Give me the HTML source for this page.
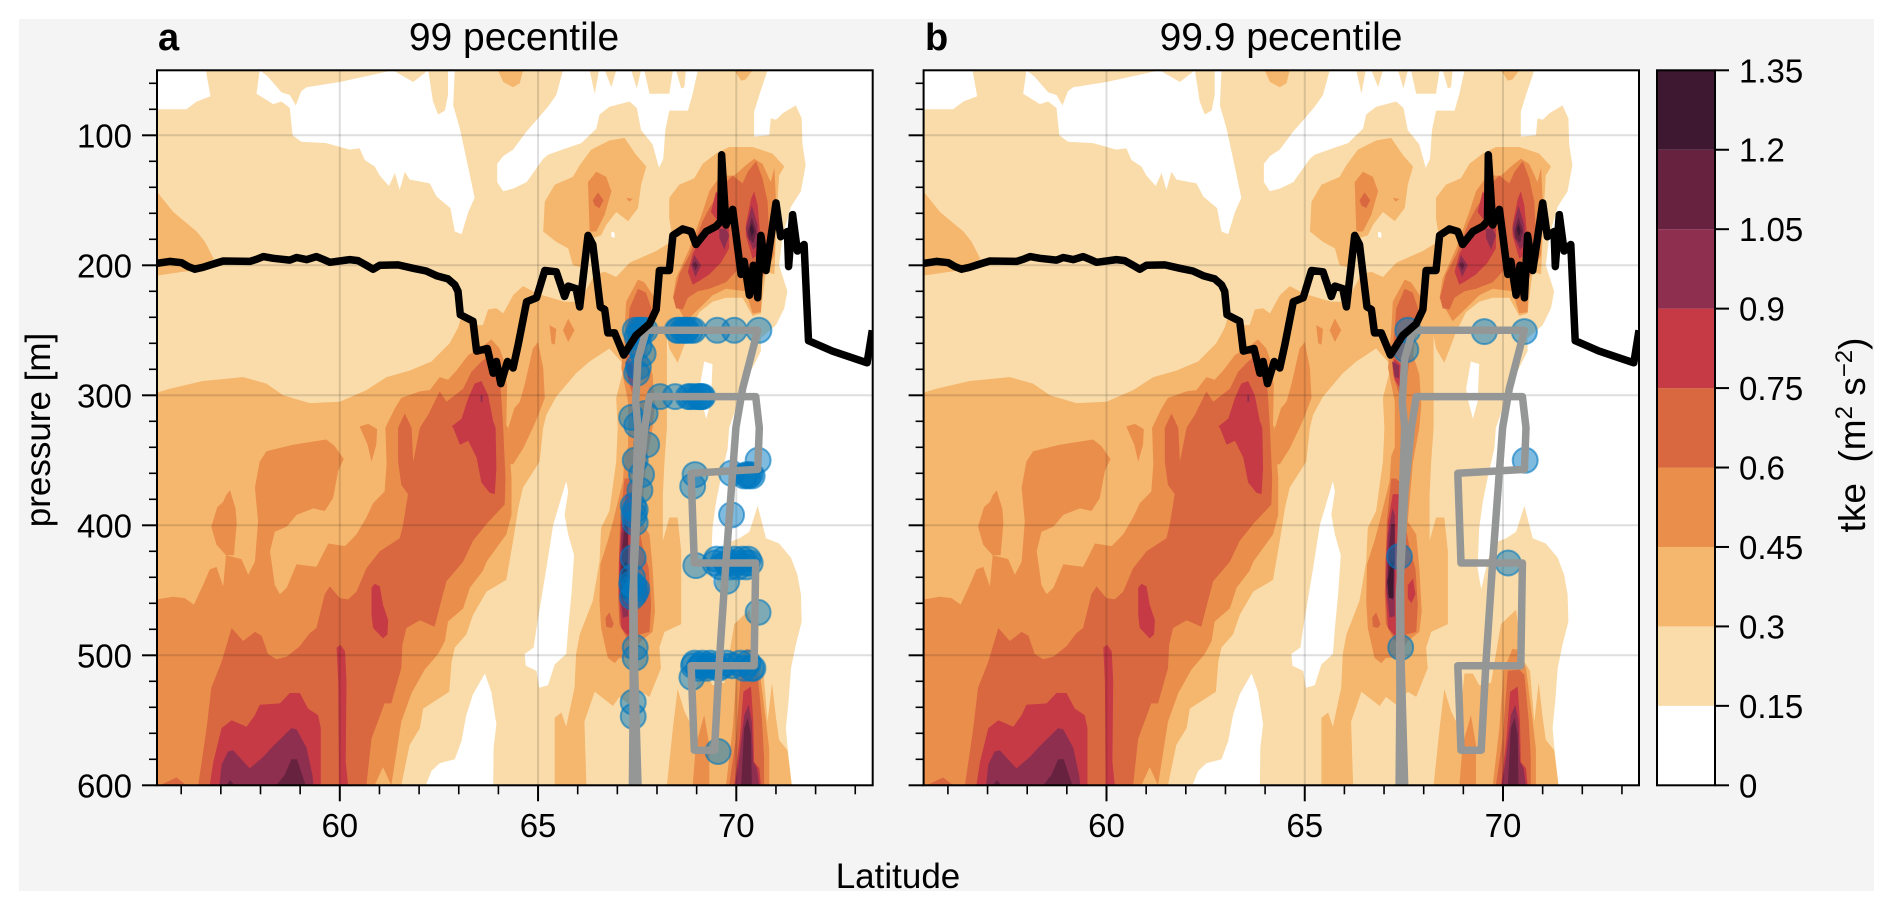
<!DOCTYPE html>
<html lang="en">
<head>
<meta charset="utf-8">
<title>TKE percentile cross-sections</title>
<style>
html,body{margin:0;padding:0;background:#fff;width:1892px;height:910px;overflow:hidden}
svg{display:block}
text{font-family:"Liberation Sans",sans-serif;fill:#000}
</style>
</head>
<body>
<svg id="chart" xmlns="http://www.w3.org/2000/svg" width="1892" height="910" viewBox="0 0 1892 910">
<rect x="19" y="19" width="1855" height="872" fill="#f4f4f4"/>
<text x="158" y="50" font-size="38" font-weight="bold">a</text>
<text x="514" y="50" font-size="39" text-anchor="middle">99 pecentile</text>
<text x="925" y="50" font-size="38" font-weight="bold">b</text>
<text x="1281" y="50" font-size="39" text-anchor="middle">99.9 pecentile</text>
<text x="898" y="888" font-size="35" text-anchor="middle">Latitude</text>
<text transform="translate(50 430) rotate(-90)" font-size="35" text-anchor="middle">pressure [m]</text>
<text transform="translate(1865 435) rotate(-90)" font-size="37" text-anchor="middle" xml:space="preserve">tke  (m<tspan font-size="24" dy="-13">2</tspan><tspan dy="13"> s</tspan><tspan font-size="24" dy="-13">−2</tspan><tspan dy="13">)</tspan></text>
</svg>
<script>
// ---- shared data: contour levels and colours ----
const levels = [0, 0.15, 0.3, 0.45, 0.6, 0.75, 0.9, 1.05, 1.2, 1.35];
const bandColors = ['#ffffff', '#fadcaa', '#f5b66d', '#ea8e4b', '#d96840', '#c63a45', '#8f2f50', '#66223f', '#3e1830'];
const colorbarTicks = ['0', '0.15', '0.3', '0.45', '0.6', '0.75', '0.9', '1.05', '1.2', '1.35'];
const latMajorTicks = [60, 65, 70];
const latMinorTicks = [56, 57, 58, 59, 61, 62, 63, 64, 66, 67, 68, 69, 71, 72, 73];
const pressureMajorTicks = [100, 200, 300, 400, 500, 600];
const pressureMinorTicks = [60, 80, 120, 140, 160, 180, 220, 240, 260, 280, 320, 340, 360, 380, 420, 440, 460, 480, 520, 540, 560, 580];

// ---- tke field: contour regions as [latitude, pressure] ----
const regionsBelow015 = [
 [[55.38,50],[56.62,50],[56.74,70],[56.39,74],[56.13,80],[55.38,80]],
 [[57.98,50],[58.19,55],[58.53,67],[58.74,69],[58.89,77],[59.03,66],[59.16,63],[60,59],[61.34,50],[61.85,59],[62.23,50],[62.35,74],[62.48,84],[62.65,81],[62.73,69],[62.73,50],[62.90,50],[62.86,77],[63.03,95],[63.24,125],[63.40,148],[63.24,159],[63.07,176],[62.90,174],[62.79,156],[62.44,147],[62.27,137],[61.76,134],[61.64,128],[61.51,142],[61.39,129],[61.24,139],[61.01,131],[60.88,124],[60.63,119],[60.50,110],[60.25,111],[59.66,106],[59.03,105],[58.81,100],[58.74,79],[58.53,74],[58.32,76],[57.90,68]],
 [[63.97,128],[63.97,122],[64.12,116],[64.37,111],[64.71,97],[65,87],[65.25,78],[65.46,69],[65.63,50],[66.30,50],[66.43,68],[66.54,50],[66.68,50],[66.85,63],[66.97,50],[67.35,50],[67.49,64],[67.60,50],[67.68,50],[67.81,68],[68.31,68],[68.40,50],[68.48,50],[68.61,64],[68.69,63],[68.73,50],[69.03,50],[68.90,68],[68.78,81],[68.31,81],[68.21,96],[68.16,118],[68.05,125],[67.89,107],[67.60,96],[67.49,79],[67.31,74],[66.80,78],[66.55,84],[66.47,95],[66.09,106],[65.71,110],[65.25,115],[65.13,118],[64.71,136],[64.37,141],[64.12,143],[63.97,136]],
 [[70.79,50],[70.58,69],[70.45,82],[70.45,101],[70.83,100],[70.87,87],[71.0,88],[71.17,83],[71.50,77],[71.65,87],[71.67,107],[71.75,123],[71.63,143],[71.38,155],[71.17,177],[71.08,200],[71.29,220],[71.21,233],[71.0,246],[70.62,256],[70.62,266],[70.24,289],[70.08,302],[69.82,325],[69.78,341],[69.61,364],[69.49,382],[69.40,402],[69.36,433],[69.45,449],[69.61,428],[69.74,414],[70.08,410],[70.33,405],[70.54,385],[70.75,410],[71.08,414],[71.38,425],[71.54,438],[71.63,453],[71.65,474],[71.50,492],[71.38,510],[71.32,535],[71.25,556],[71.29,569],[71.40,600],[73.43,600],[73.43,50]],
 [[69.07,295],[69.19,274],[69.40,276],[69.36,305],[69.24,318],[69.13,305]],
 [[65.71,366],[65.38,400],[65.21,433],[64.96,479],[64.89,494],[64.66,499],[64.69,508],[64.96,512],[65.03,525],[65.25,523],[65.42,507],[65.71,499],[65.76,479],[65.84,453],[65.91,423],[65.76,407],[65.67,392],[65.76,374]],
 [[63.66,514],[63.82,528],[63.95,553],[63.88,571],[63.87,600],[62.17,600],[62.31,589],[62.52,583],[62.90,580],[63.07,566],[63.19,546],[63.36,530]],
 [[66.85,174],[66.93,175],[66.93,179],[66.85,178]]
];
const regionsAbove030 = [
 [[55.38,143],[55.80,159],[56.39,174],[56.60,182],[56.82,195],[56.34,204],[56.05,205],[55.38,208]],
 [[55.38,298],[55.71,295],[56.55,289],[57.56,286],[58.15,291],[58.57,300],[59.24,306],[60,305],[60.67,296],[61.18,286],[61.76,281],[62.31,274],[62.77,260],[62.98,248],[63.07,239],[63.40,246],[63.61,246],[63.74,234],[63.95,233],[64.12,237],[64.37,223],[64.62,216],[65.0,222],[65.67,228],[66.05,228],[66.43,207],[66.68,205],[66.97,209],[67.31,198],[67.98,189],[68.40,181],[68.31,164],[68.31,148],[68.56,138],[68.94,133],[69.15,122],[69.49,114],[69.82,109],[70.41,109],[70.91,114],[71.21,124],[71.08,131],[71.04,151],[71.0,177],[70.96,207],[70.75,205],[70.66,225],[70.62,237],[70.41,239],[70.16,225],[69.74,225],[69.40,228],[69.07,236],[68.82,251],[68.52,275],[68.31,264],[68.25,254],[68.25,325],[68.19,351],[68.15,376],[68.15,412],[68.31,394],[68.52,394],[68.61,420],[68.61,476],[68.19,482],[68.06,494],[68.10,510],[67.81,532],[67.60,528],[67.31,538],[67.05,532],[66.89,539],[66.43,528],[66.17,551],[66.22,600],[65.42,600],[65.42,548],[65.59,544],[65.71,555],[65.92,525],[65.96,499],[66.05,484],[66.38,458],[66.55,428],[66.59,402],[66.80,389],[66.97,351],[67.01,325],[66.97,302],[67.18,277],[66.80,264],[66.30,274],[65.96,283],[65.46,301],[65.21,315],[65.13,325],[65.04,351],[64.62,371],[64.50,387],[64.37,412],[64.20,442],[63.70,451],[63.36,469],[63.19,484],[62.90,494],[62.82,505],[62.76,528],[62.10,541],[62.02,556],[61.76,569],[61.55,600],[55.38,600]],
 [[68.25,600],[68.40,556],[68.52,526],[68.69,543],[68.82,551],[68.98,528],[69.03,514],[69.24,514],[69.40,523],[69.70,521],[69.82,499],[69.95,476],[70.33,465],[70.41,484],[70.54,505],[70.68,512],[70.79,551],[70.90,521],[71.0,548],[71.08,565],[71.29,573],[71.40,600]],
 [[63.99,50],[64.62,50],[64.54,60],[64.37,63],[64.12,59]],
 [[69.95,50],[70.41,50],[70.24,57],[70.12,58]],
 [[65.13,174],[65.17,151],[65.42,138],[65.88,132],[66.05,123],[66.34,111],[66.80,104],[67.18,102],[67.47,115],[67.73,124],[67.60,138],[67.52,156],[67.27,166],[66.97,159],[66.72,169],[66.59,177],[66.38,179],[66.17,202],[65.88,200],[65.76,187],[65.46,182]]
];
const regionsAbove045 = [
 [[55.38,457],[55.80,455],[56.09,456],[56.32,461],[56.55,446],[56.72,434],[56.89,432],[57.06,447],[57.13,423],[57.52,426],[57.69,438],[57.86,428],[57.94,397],[57.86,371],[57.98,351],[58.15,343],[58.82,338],[59.66,334],[59.87,339],[60.10,349],[59.96,358],[59.83,379],[59.62,389],[59.33,387],[58.91,392],[58.66,401],[58.36,405],[58.24,420],[58.36,446],[58.49,453],[58.66,448],[58.91,430],[59.41,432],[59.71,414],[60.13,416],[60.42,407],[60.67,394],[60.84,383],[61.13,374],[61.18,353],[61.15,325],[61.39,310],[61.55,302],[62.02,297],[62.27,296],[62.52,286],[62.73,288],[62.94,281],[63.24,269],[63.57,263],[63.82,257],[64.03,264],[64.12,272],[64.22,292],[64.20,323],[64.24,325],[64.33,364],[64.33,392],[64.20,407],[63.70,428],[63.61,435],[63.28,448],[63.11,464],[62.73,474],[62.65,489],[62.48,499],[62.14,511],[61.81,529],[61.55,551],[61.30,600],[61.09,586],[60.88,600],[55.38,600]],
 [[56.91,386],[57.06,382],[57.13,377],[57.23,373],[57.37,387],[57.40,398],[57.33,423],[57.13,423],[56.89,415],[56.76,401]],
 [[60.50,324],[60.72,322],[60.94,326],[60.92,338],[60.80,351],[60.70,338]],
 [[64.54,305],[64.66,292],[64.87,264],[65,259],[65.13,279],[65.17,302],[65,316],[64.87,325],[64.62,341],[64.37,353],[64.25,353],[64.25,325],[64.4,310]],
 [[65.29,246],[65.46,249],[65.42,261],[65.34,260]],
 [[65.76,241],[65.92,250],[65.76,259],[65.63,250]],
 [[66.26,136],[66.47,128],[66.72,132],[66.85,143],[66.68,161],[66.47,174],[66.30,174]],
 [[67.22,148],[67.39,149],[67.30,151]],
 [[67.22,228],[67.52,211],[67.68,213],[67.94,225],[67.98,236],[67.81,251],[67.73,269],[67.89,284],[67.94,307],[67.89,325],[67.73,351],[67.60,397],[67.81,407],[67.89,433],[67.95,466],[67.89,482],[67.60,489],[67.31,502],[67.05,502],[66.93,506],[66.76,502],[66.59,479],[66.55,458],[66.57,430],[66.76,412],[66.89,397],[67.14,366],[67.18,347],[67.27,340],[67.27,305],[67.10,279],[67.18,251]],
 [[68.40,225],[68.48,210],[68.82,187],[69.15,159],[69.32,143],[69.53,134],[69.74,131],[69.95,131],[70.24,123],[70.45,118],[70.66,122],[70.87,136],[70.96,125],[71.0,151],[70.96,192],[70.83,200],[70.66,207],[70.62,236],[70.41,237],[70.24,220],[69.74,218],[69.40,223],[69.07,233],[68.73,243],[68.56,234]],
 [[68.90,600],[68.98,569],[69.19,546],[69.32,569],[69.32,600]],
 [[69.74,600],[69.91,556],[70.01,512],[70.24,495],[70.41,496],[70.58,510],[70.75,551],[70.83,572],[70.83,600]]
];
const regionsAbove060 = [
 [[56.43,600],[56.64,556],[56.76,525],[57.02,505],[57.27,479],[57.56,489],[57.86,482],[58.03,485],[58.19,499],[58.40,503],[58.66,501],[58.99,493],[59.24,483],[59.41,479],[59.62,453],[59.75,447],[60,456],[60.21,457],[60.42,451],[60.67,433],[61.01,420],[61.51,410],[61.60,399],[61.72,376],[61.55,369],[61.47,351],[61.47,325],[61.64,314],[61.78,323],[61.81,325],[61.85,351],[62.02,325],[62.23,315],[62.52,297],[62.69,305],[63.11,295],[63.32,282],[63.57,274],[63.82,268],[64.03,284],[64.08,305],[64.12,325],[64.18,364],[64.16,384],[63.70,399],[63.36,412],[63.11,428],[62.69,443],[62.56,458],[62.39,478],[62.02,473],[61.68,479],[61.58,492],[61.55,510],[61.30,537],[61.13,537],[60.80,564],[60.67,600]],
 [[55.46,600],[55.88,594],[56.13,600]],
 [[66.38,150],[66.51,144],[66.65,150],[66.55,156],[66.43,154]],
 [[68.41,225],[68.56,207],[68.82,192],[69.15,166],[69.32,156],[69.49,148],[69.74,136],[69.91,131],[70.16,137],[70.29,128],[70.50,120],[70.66,133],[70.79,151],[70.83,177],[70.75,202],[70.62,213],[70.41,215],[70.24,202],[70.08,202],[69.74,213],[69.32,218],[69.03,220],[68.78,225],[68.65,234],[68.48,233]],
 [[67.31,233],[67.52,218],[67.72,221],[67.86,233],[67.81,246],[67.69,261],[67.56,292],[67.39,300],[67.22,284],[67.22,267]],
 [[67.18,364],[67.07,397],[67.04,428],[67.02,453],[67.05,476],[67.27,489],[67.56,484],[67.81,482],[67.85,461],[67.79,433],[67.64,417],[67.54,400],[67.47,369],[67.31,364]],
 [[66.70,471],[66.80,467],[66.91,476],[66.85,479],[66.72,478]],
 [[69.82,600],[69.99,564],[70.12,512],[70.41,511],[70.54,515],[70.65,551],[70.70,579],[70.70,600]]
];
const regionsAbove075 = [
 [[56.72,600],[56.81,582],[57.02,556],[57.27,550],[57.65,555],[57.86,546],[57.98,538],[58.49,537],[58.74,529],[58.99,529],[59.20,541],[59.45,546],[59.52,556],[59.52,600]],
 [[59.92,494],[60.02,492],[60.13,497],[60.17,520],[60.15,582],[60.21,600],[59.98,600],[59.96,520]],
 [[60.80,448],[60.88,445],[61.01,447],[61.09,461],[61.22,473],[61.20,484],[61.09,487],[60.84,479],[60.80,469]],
 [[62.82,324],[63.07,318],[63.24,302],[63.40,291],[63.57,289],[63.74,300],[63.87,320],[63.93,325],[63.95,356],[63.91,376],[63.78,375],[63.57,367],[63.45,348],[63.24,335],[63.03,338],[62.86,325]],
 [[68.78,205],[68.90,191],[69.15,177],[69.40,168],[69.82,169],[69.82,187],[69.61,198],[69.32,207],[69.07,212],[68.90,215]],
 [[69.36,159],[69.49,143],[69.66,151],[69.61,169]],
 [[70.24,169],[70.37,149],[70.45,143],[70.54,154],[70.62,182],[70.54,192],[70.41,195],[70.24,177]],
 [[67.27,272],[67.43,277],[67.41,295],[67.27,288],[67.21,277]],
 [[67.22,376],[67.10,397],[67.04,428],[67.04,453],[67.10,479],[67.27,485],[67.39,479],[67.43,428],[67.39,376]],
 [[67.60,446],[67.73,441],[67.79,453],[67.69,460],[67.60,456]],
 [[69.95,600],[70.08,566],[70.18,528],[70.37,524],[70.43,551],[70.45,582],[70.58,587],[70.62,600]]
];
const regionsAbove090 = [
 [[56.96,600],[57.02,584],[57.18,574],[57.31,573],[57.73,587],[58.07,578],[58.28,571],[58.78,556],[58.91,557],[59.16,571],[59.31,592],[59.34,600]],
 [[63.55,300],[63.60,300],[63.60,305],[63.55,305]],
 [[68.86,200],[68.94,192],[69.11,200],[68.97,209]],
 [[69.57,172],[69.74,172],[69.82,177],[69.70,188],[69.57,179]],
 [[70.24,172],[70.39,154],[70.54,169],[70.54,184],[70.43,188],[70.29,179]],
 [[67.21,387],[67.10,407],[67.05,448],[67.14,471],[67.27,470],[67.27,392]],
 [[67.20,274],[67.38,277],[67.38,287],[67.27,286]],
 [[69.97,600],[70.08,577],[70.20,546],[70.31,538],[70.39,551],[70.43,582],[70.52,587],[70.58,600]]
];
const regionsAbove105 = [
 [[58.40,600],[58.61,592],[58.78,580],[58.92,580],[59.03,590],[59.14,600]],
 [[57.14,600],[57.23,596],[57.35,600]],
 [[68.90,199],[68.97,197],[69.03,200],[68.97,204]],
 [[70.29,174],[70.39,163],[70.51,174],[70.43,183],[70.31,179]],
 [[67.18,399],[67.10,428],[67.10,453],[67.22,458],[67.27,428],[67.27,399]],
 [[70.12,600],[70.20,556],[70.29,548],[70.37,561],[70.39,600]]
];
const regionsAbove120 = [
 [[67.18,428],[67.08,443],[67.12,456],[67.24,456],[67.24,428]],
 [[70.34,172],[70.39,168],[70.45,174],[70.39,178]]
];
const fieldByLevel = [regionsAbove030, regionsAbove045, regionsAbove060, regionsAbove075, regionsAbove090, regionsAbove105, regionsAbove120];

// ---- tropopause (black line) ----
const tropopauseLat = [55.38,55.71,56.01,56.18,56.34,56.55,56.81,57.06,57.73,57.90,58.07,58.32,58.74,58.91,59.16,59.41,59.58,59.75,60.25,60.46,60.67,60.84,61.01,61.47,61.85,62.18,62.44,62.73,62.90,62.98,63.04,63.36,63.45,63.72,63.87,63.95,64.06,64.23,64.37,64.50,64.71,64.96,65.17,65.46,65.67,65.76,65.96,66.05,66.26,66.38,66.57,66.68,66.76,66.93,67.16,67.47,67.81,67.98,68.06,68.31,68.40,68.65,68.86,68.98,69.24,69.49,69.61,69.63,69.74,69.91,70.12,70.20,70.33,70.43,70.54,70.62,70.75,71.0,71.12,71.29,71.32,71.42,71.54,71.71,71.82,72.42,73.30,73.43];
const tropopausePressure = [198.5,197,198,201,203,201.5,199,196.7,197,195.4,193.3,194.6,196,194,195.6,193.3,195.4,197.7,195.6,196.4,200,203,200,199.7,202.3,204.4,208,210.5,215,220,238,243,266,264,283,274,291,274,279,261,228,225,204,205,224,216,218,232,177,184,232,234,252,252,269,254,245,234,204,204,177,172,174,184,174,170,166,115,169,157,207,197,223,200,225,177,204,152,178,174,201,161,189,184,258,266,275,250];

// ---- flight track (grey line) ----
const trackLat = [67.52,67.43,67.41,67.49,67.52,67.46,67.52,67.73,70.54,70.16,69.99,69.74,69.57,69.45,68.94,68.86,70.45,70.49,68.94,68.86,70.54,70.58,70.49,67.81,67.69,67.52,67.39,67.40,67.38];
const trackPressure = [600,505,428,351,325,305,272,250,250,295,325,428,505,573,573,508,508,429,429,360,357,325,301,301,325,376,453,530,600];

// ---- exceedance markers ----
const markersALat = [67.45,67.55,67.61,67.7,68.51,68.71,68.92,69.52,69.95,70.57,68.08,68.46,68.79,69.08,69.15,67.53,67.49,67.65,67.36,67.70,67.49,67.74,67.45,67.61,67.57,67.45,67.45,67.40,67.36,67.49,67.45,67.45,67.40,67.40,68.96,68.90,70.55,69.88,70.26,70.35,69.88,68.98,69.46,70.26,69.76,70.01,70.35,69.76,70.55,68.92,68.88,69.29,69.66,69.10,69.90,70.42,69.45,69.54,67.5,67.55,68.55,68.65,68.75,68.85,68.85,68.95,69.05,69.12,67.40,67.42,67.38,67.42,67.45,67.38,70.2,70.3,70.4,69.5,69.6,69.7,69.85,69.95,70.05,70.15,70.25,70.3,68.95,69.05,69.15,69.25,69.35,69.55,69.75,70.1,70.2,70.3,70.38];
const markersAPressure = [250,250,250,250,250,250,250,250,250,250,301,301,301,301,301,278,283,268,317,314,323,338,350,361,373,388,398,425,445,449,494,502,536,547,361,370,350,360,361,361,392,431,429,429,429,429,429,443,467,508,517,508,508,508,508,510,508,574,255,262,250,250,250,250,301,301,301,301,385,392,440,447,452,455,362,362,362,426,432,426,432,426,432,426,432,426,506,510,506,510,506,510,506,506,510,506,510];
const markersBLat = [69.53,70.54,67.60,67.55,70.56,67.39,70.13,67.42];
const markersBPressure = [251,251,250,265,350,424,429,494];

// ---- axis functions ----
const SVGNS = 'http://www.w3.org/2000/svg';
const chart = document.getElementById('chart');
const pxPerLat = 39.65, pxPerPressure = 1.3, plotTop = 70.3, plotBottom = 785.3;
function yScale(p) { return plotTop + (p - 50) * pxPerPressure; }
function xScaleFor(x60) { return function (lat) { return x60 + (lat - 60) * pxPerLat; }; }
function levelScale(v) { return plotBottom - (v / 1.35) * (plotBottom - plotTop); }
function el(tag, attrs, parent) {
  const node = document.createElementNS(SVGNS, tag);
  for (const k in attrs) node.setAttribute(k, attrs[k]);
  (parent || chart).appendChild(node);
  return node;
}
function polyPath(region, xs) {
  return 'M' + region.map(function (pt) { return xs(pt[0]).toFixed(1) + ' ' + yScale(pt[1]).toFixed(1); }).join('L') + 'Z';
}
function linePath(lats, pressures, xs) {
  return 'M' + lats.map(function (lat, i) { return xs(lat).toFixed(1) + ' ' + yScale(pressures[i]).toFixed(1); }).join('L');
}
function drawTickLine(x1, y1, x2, y2, width, parent, name) {
  const t = el('line', {x1: x1, y1: y1, x2: x2, y2: y2, stroke: '#000', 'stroke-width': width}, parent);
  
  
}

function drawPanel(prefix, left, right, x60, markerLat, markerPressure, showYLabels) {
  const xs = xScaleFor(x60);
  const group = el('g', {});
  
  
  const clipId = prefix + '-clip';
  const defs = el('defs', {}, group);
  const clip = el('clipPath', {id: clipId}, defs);
  el('rect', {x: left, y: plotTop, width: right - left, height: plotBottom - plotTop}, clip);
  const plot = el('g', {'clip-path': 'url(#' + clipId + ')'}, group);
  
  

  const base = el('rect', {x: left, y: plotTop, width: right - left, height: plotBottom - plotTop, fill: bandColors[1]}, plot);
  
  
  regionsBelow015.forEach(function (region) {
    const hole = el('path', {d: polyPath(region, xs), fill: bandColors[0]}, plot);
    
    
  });
  fieldByLevel.forEach(function (regions, i) {
    regions.forEach(function (region) {
      const shape = el('path', {d: polyPath(region, xs), fill: bandColors[i + 2]}, plot);
      
      
    });
  });

  latMajorTicks.forEach(function (lat) {
    const g = el('line', {x1: xs(lat), x2: xs(lat), y1: plotTop, y2: plotBottom, stroke: '#000', 'stroke-opacity': 0.13, 'stroke-width': 2}, plot);
    
    
  });
  pressureMajorTicks.forEach(function (p) {
    const g = el('line', {x1: left, x2: right, y1: yScale(p), y2: yScale(p), stroke: '#000', 'stroke-opacity': 0.13, 'stroke-width': 2}, plot);
    
    
  });

  markerLat.forEach(function (lat, i) {
    const c = el('circle', {cx: xs(lat), cy: yScale(markerPressure[i]), r: 12.5, fill: '#0078c0', 'fill-opacity': 0.5, stroke: '#0078c0', 'stroke-opacity': 0.6, 'stroke-width': 2}, plot);
    
    
  });

  const track = el('path', {d: linePath(trackLat, trackPressure, xs), fill: 'none', stroke: '#959796', 'stroke-width': 7.5, 'stroke-linejoin': 'round', 'stroke-linecap': 'butt'}, plot);
  
  

  const trop = el('path', {d: linePath(tropopauseLat, tropopausePressure, xs), fill: 'none', stroke: '#000', 'stroke-width': 7.5, 'stroke-linejoin': 'round', 'stroke-linecap': 'butt'}, plot);
  
  

  const frame = el('rect', {x: left, y: plotTop, width: right - left, height: plotBottom - plotTop, fill: 'none', stroke: '#000', 'stroke-width': 2}, group);
  
  

  latMajorTicks.forEach(function (lat) {
    drawTickLine(xs(lat), plotBottom, xs(lat), plotBottom + 16, 2, group, prefix + '-x-major-tick');
    const t = el('text', {x: xs(lat), y: 837, 'font-size': 33, 'text-anchor': 'middle'}, group);
    
    
    t.textContent = String(lat);
  });
  latMinorTicks.forEach(function (lat) {
    drawTickLine(xs(lat), plotBottom, xs(lat), plotBottom + 9, 1.6, group, prefix + '-x-minor-tick');
  });
  pressureMajorTicks.forEach(function (p) {
    drawTickLine(left - 15, yScale(p), left, yScale(p), 2, group, prefix + '-y-major-tick');
    if (showYLabels) {
      const t = el('text', {x: 132, y: yScale(p) + 12, 'font-size': 33, 'text-anchor': 'end'}, group);
      
      
      t.textContent = String(p);
    }
  });
  pressureMinorTicks.forEach(function (p) {
    drawTickLine(left - 8, yScale(p), left, yScale(p), 1.6, group, prefix + '-y-minor-tick');
  });
}

function drawColorbar(left, right) {
  const group = el('g', {});
  
  
  bandColors.forEach(function (color, i) {
    const top = levelScale(levels[i + 1]);
    const bottom = levelScale(levels[i]);
    const r = el('rect', {x: left, y: top, width: right - left, height: bottom - top, fill: color}, group);
    
    
  });
  const frame = el('rect', {x: left, y: plotTop, width: right - left, height: plotBottom - plotTop, fill: 'none', stroke: '#000', 'stroke-width': 2}, group);
  
  
  colorbarTicks.forEach(function (label) {
    const y = levelScale(parseFloat(label));
    drawTickLine(right, y, right + 14, y, 2, group, 'colorbar-tick');
    const t = el('text', {x: 1739, y: y + 12, 'font-size': 33}, group);
    
    
    t.textContent = label;
  });
}

drawPanel('panel-a', 157, 872.7, 339.8, markersALat, markersAPressure, true);
drawPanel('panel-b', 923.6, 1639, 1106.5, markersBLat, markersBPressure, false);
drawColorbar(1657, 1715);
</script>
</body>
</html>
